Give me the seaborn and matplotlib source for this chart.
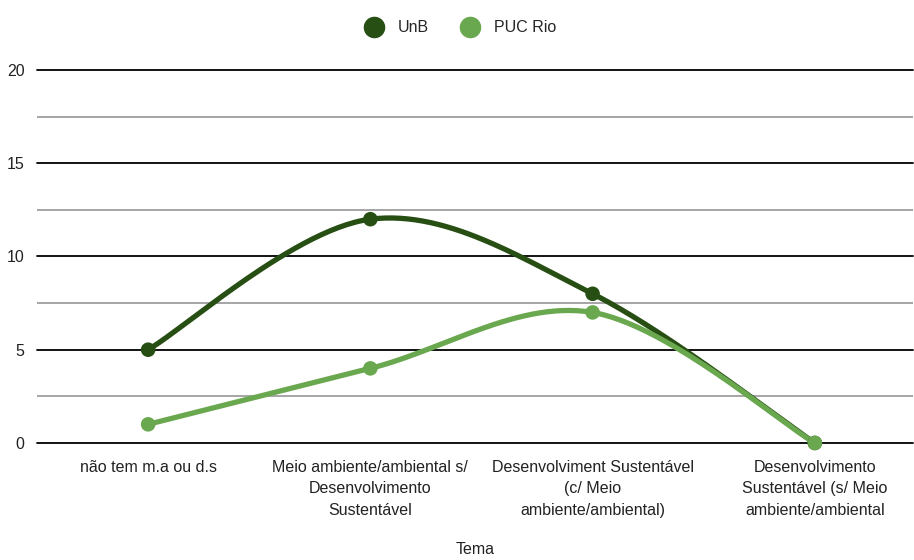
import numpy as np
import pandas as pd
import matplotlib
matplotlib.use("Agg")
import matplotlib.pyplot as plt
from matplotlib.ticker import MultipleLocator
from matplotlib.lines import Line2D
import seaborn as sns

categories = [
    "não tem m.a ou d.s",
    "Meio ambiente/ambiental s/\nDesenvolvimento\nSustentável",
    "Desenvolviment Sustentável\n(c/ Meio\nambiente/ambiental)",
    "Desenvolvimento\nSustentável (s/ Meio\nambiente/ambiental",
]
unb = [5, 12, 8, 0]
puc_rio = [1, 4, 7, 0]
series_names = ["UnB", "PUC Rio"]
colors = ["#274e13", "#6aa84f"]


def smooth(xs, ys, n=60):
    """Catmull-Rom style cubic Bezier through the points."""
    xs = np.asarray(xs, float)
    ys = np.asarray(ys, float)
    out_x, out_y = [], []
    m = len(xs)
    for i in range(m - 1):
        p0 = np.array([xs[i], ys[i]])
        p3 = np.array([xs[i + 1], ys[i + 1]])
        prev = np.array([xs[i - 1], ys[i - 1]]) if i > 0 else p0
        nxt = np.array([xs[i + 2], ys[i + 2]]) if i + 2 < m else p3
        c1 = p0 + (p3 - prev) / 6.0
        c2 = p3 - (nxt - p0) / 6.0
        t = np.linspace(0, 1, n)[:, None]
        pts = ((1 - t) ** 3) * p0 + 3 * ((1 - t) ** 2) * t * c1 + 3 * (1 - t) * t ** 2 * c2 + t ** 3 * p3
        out_x.extend(pts[:, 0])
        out_y.extend(pts[:, 1])
    return np.array(out_x), np.array(out_y)


sns.set_style("white")
plt.rcParams["font.family"] = ["Liberation Sans", "DejaVu Sans"]
FS = 11.5
TXT = "#222222"

fig = plt.figure(figsize=(9.14, 5.6), dpi=100)
ax = fig.add_axes([0.0405, 0.209, 0.958, 0.666])

xpos = np.arange(len(categories))
for name, vals, col in zip(series_names, [unb, puc_rio], colors):
    sx, sy = smooth(xpos, vals)
    curve = pd.DataFrame({"x": sx, "y": sy})
    sns.lineplot(data=curve, x="x", y="y", ax=ax, color=col, linewidth=3.8,
                 sort=False, estimator=None, zorder=3, solid_capstyle="round")
    pts = pd.DataFrame({"x": xpos, "y": vals})
    sns.scatterplot(data=pts, x="x", y="y", ax=ax, color=col, s=110,
                    edgecolor="none", zorder=4, clip_on=False)

ax.set_xlim(-0.5, 3.44)
ax.set_ylim(0, 20)
ax.yaxis.set_major_locator(MultipleLocator(5))
ax.yaxis.set_minor_locator(MultipleLocator(2.5))
ax.set_xticks(xpos)
ax.set_xticklabels(categories, fontsize=FS, color=TXT, linespacing=1.55, va="top")
ax.tick_params(axis="y", labelsize=FS, labelcolor=TXT, length=0, pad=9)
ax.tick_params(axis="x", length=0, pad=12)
ax.tick_params(axis="y", which="minor", length=0)

ax.grid(False)
for v in np.arange(0, 20.01, 5):
    ax.axhline(v, color="black", linewidth=1.3, zorder=1, clip_on=False)
for v in np.arange(2.5, 20, 5):
    ax.axhline(v, color="#9e9e9e", linewidth=1.3, zorder=1)
for s in ax.spines.values():
    s.set_visible(False)

ax.set_xlabel("Tema", fontsize=FS, color=TXT, va="center")
ax.xaxis.set_label_coords(0.5, -0.285)
ax.set_ylabel("")

handles = [Line2D([0], [0], marker="o", linestyle="none", markersize=14.5,
                  markerfacecolor=c, markeredgecolor=c) for c in colors]
fig.legend(handles, series_names, loc="center", bbox_to_anchor=(0.5, 0.95), ncol=2,
           frameon=False, fontsize=FS, handletextpad=0.5, columnspacing=1.6)

fig.savefig("out.png", dpi=100, facecolor="white")
